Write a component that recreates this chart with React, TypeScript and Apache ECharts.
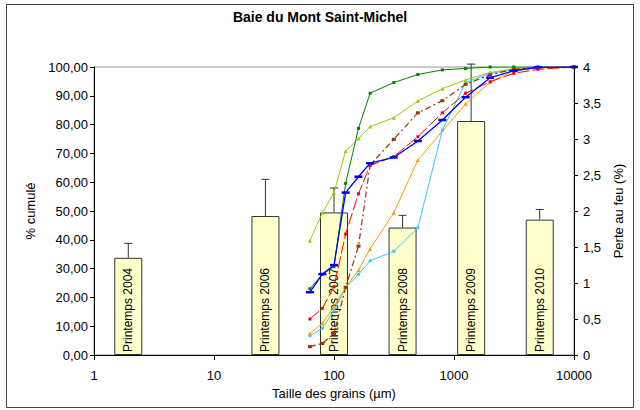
import React, { useEffect, useRef } from "react";
import * as echarts from "echarts";

const FONT = "'Liberation Sans', Arial, sans-serif";

// Bars: loss on ignition (%) per campaign (right axis)
const barCategories = ["Printemps 2004", "", "Printemps 2006", "Printemps 2007", "Printemps 2008", "Printemps 2009", "Printemps 2010"];
const barValues: (number | null)[] = [1.35, null, 1.93, 1.98, 1.77, 3.25, 1.88];
const barErrorHigh: (number | null)[] = [1.55, null, 2.44, 2.32, 1.94, 4.04, 2.02];

// Cumulative grain size curves (left axis, % cumulé) vs grain size (µm)
const sizesMain = [63, 80, 100, 125, 160, 200, 315, 500, 800, 1250, 2000, 3150, 5000, 10000];
const sizesOrange = [63, 80, 100, 125, 160, 200, 315, 500, 1250, 2000, 3150, 5000, 10000];

const greenValues = [23, 28, 30.7, 59.6, 78.7, 90.9, 94.6, 97.4, 99, 99.5, 100, 100, 100, 100];
const yellowGreenValues = [39.7, 49.4, 56.4, 70.8, 75.2, 79.3, 82.4, 88.2, 92.5, 95.5, 98.1, 99.4, 99.9, 100];
const brownValues = [2.9, 4.0, 7.5, 23.5, 37.8, 66, 74.9, 84.1, 88.3, 94, 97.3, 99.2, 99.9, 100];
const redValues = [12.5, 16.2, 23.7, 42, 56, 65.8, 68.9, 75.8, 84.1, 90.9, 94.9, 97.8, 99.2, 100];
const blueValues = [21.8, 28.1, 31.2, 56.4, 61.9, 66.6, 68.6, 74.3, 81.6, 89.5, 96.3, 98.7, 99.9, 100];
const orangeValues = [7.5, 11, 16.8, 23.5, 29.5, 36.9, 49.4, 67.7, 87.2, 94.7, 98.7, 99.9, 100];
const cyanValues = [6.7, 9.3, 15.5, 23.3, 28, 32.7, 36, 44.2, 78.1, 94.6, 97.8, 99, 99.9, 100];

const leftTicks = { min: 0, max: 100, interval: 10 };
const rightTicks = { min: 0, max: 4, interval: 0.5 };

const pairs = (xs: number[], ys: number[]) => xs.map((x, i) => [x, ys[i]]);

function lineSeries(name: string, xs: number[], ys: number[], color: string, opts: any = {}) {
  return {
    name,
    type: "line",
    xAxisIndex: 0,
    yAxisIndex: 0,
    data: pairs(xs, ys),
    symbol: opts.symbol || "rect",
    symbolSize: opts.symbolSize || 3,
    showSymbol: true,
    itemStyle: { color },
    lineStyle: { color, width: opts.width || 1, type: opts.type || "solid" },
    z: opts.z || 3,
  };
}

export default function App() {
  const ref = useRef<HTMLDivElement>(null);

  useEffect(() => {
    document.body.style.margin = "0";
    if (!ref.current) return;
    const chart = echarts.init(ref.current, undefined, { renderer: "svg" });

    const errorData = barValues
      .map((v, i) => (v == null ? null : [i, v, barErrorHigh[i]]))
      .filter((d) => d != null);

    const option: any = {
      animation: false,
      backgroundColor: "#fff",
      textStyle: { fontFamily: FONT },
      title: {
        text: "Baie du Mont Saint-Michel",
        left: "center",
        top: 10,
        padding: 0,
        textStyle: { fontFamily: FONT, fontSize: 14, fontWeight: "bold", color: "#000" },
      },
      graphic: [
        {
          type: "rect",
          shape: { x: 6.5, y: 4.5, width: 627, height: 403 },
          style: { fill: "none", stroke: "#444", lineWidth: 1 },
          silent: true,
        },
      ],
      grid: {
        left: 94,
        right: 66,
        top: 67,
        bottom: 55,
        show: true,
        borderColor: "#999",
        borderWidth: 1,
        backgroundColor: "transparent",
      },
      xAxis: [
        {
          type: "log",
          logBase: 10,
          min: 1,
          max: 10000,
          name: "Taille des grains (µm)",
          nameLocation: "middle",
          nameGap: 31,
          nameTextStyle: { fontFamily: FONT, fontSize: 13, color: "#000" },
          axisLine: { show: true, lineStyle: { color: "#000", width: 1 } },
          axisTick: { show: true, length: 5, lineStyle: { color: "#000" } },
          minorTick: { show: false },
          splitLine: { show: false },
          axisLabel: {
            fontFamily: FONT,
            fontSize: 13,
            color: "#000",
            margin: 14,
            formatter: (v: number) => String(Math.round(v)),
          },
        },
        {
          type: "category",
          data: barCategories,
          show: false,
          boundaryGap: true,
          gridIndex: 0,
        },
      ],
      yAxis: [
        {
          type: "value",
          ...leftTicks,
          name: "% cumulé",
          nameLocation: "middle",
          nameGap: 48,
          nameRotate: 90,
          nameTextStyle: { fontFamily: FONT, fontSize: 13, color: "#000" },
          axisLine: { show: true, lineStyle: { color: "#000", width: 1 } },
          axisTick: { show: true, length: 4, lineStyle: { color: "#000" } },
          splitLine: { show: false },
          axisLabel: {
            fontFamily: FONT,
            fontSize: 13,
            color: "#000",
            margin: 6,
            formatter: (v: number) => v.toFixed(2).replace(".", ","),
          },
        },
        {
          type: "value",
          position: "right",
          ...rightTicks,
          name: "Perte au feu (%)",
          nameLocation: "middle",
          nameGap: 37,
          nameRotate: 90,
          nameTextStyle: { fontFamily: FONT, fontSize: 13, color: "#000" },
          axisLine: { show: true, lineStyle: { color: "#000", width: 1 } },
          axisTick: { show: true, length: 4, lineStyle: { color: "#000" } },
          splitLine: { show: false },
          axisLabel: {
            fontFamily: FONT,
            fontSize: 13,
            color: "#000",
            margin: 9,
            formatter: (v: number) => String(v).replace(".", ","),
          },
        },
      ],
      series: [
        {
          name: "Perte au feu",
          type: "bar",
          xAxisIndex: 1,
          yAxisIndex: 1,
          data: barValues.map((v) => (v == null ? "-" : v)),
          barWidth: 28,
          itemStyle: { color: "#FFFFCC", borderColor: "#333", borderWidth: 1 },
          label: {
            show: true,
            position: "insideBottom",
            rotate: 90,
            align: "left",
            verticalAlign: "middle",
            distance: 3,
            fontFamily: FONT,
            fontSize: 12,
            color: "#000",
            formatter: (p: any) => barCategories[p.dataIndex],
          },
          z: 1,
        },
        {
          name: "Erreur",
          type: "custom",
          xAxisIndex: 1,
          yAxisIndex: 1,
          clip: false,
          data: errorData,
          renderItem: (params: any, api: any) => {
            const idx = api.value(0);
            const p1 = api.coord([idx, api.value(1)]);
            const p2 = api.coord([idx, api.value(2)]);
            const half = 4;
            return {
              type: "group",
              children: [
                {
                  type: "line",
                  shape: { x1: p1[0], y1: p1[1], x2: p2[0], y2: p2[1] },
                  style: { stroke: "#333", lineWidth: 1 },
                },
                {
                  type: "line",
                  shape: { x1: p2[0] - half, y1: p2[1], x2: p2[0] + half, y2: p2[1] },
                  style: { stroke: "#333", lineWidth: 1 },
                },
              ],
            };
          },
          z: 2,
        },
        lineSeries("Cyan", sizesMain, cyanValues, "#33CCFF", { symbol: "rect", symbolSize: 3 }),
        lineSeries("Orange", sizesOrange, orangeValues, "#FF9900", { symbol: "triangle", symbolSize: 4 }),
        lineSeries("Vert clair", sizesMain, yellowGreenValues, "#99CC00", { symbol: "triangle", symbolSize: 4 }),
        lineSeries("Vert", sizesMain, greenValues, "#008000", { symbol: "rect", symbolSize: 3 }),
        lineSeries("Brun", sizesMain, brownValues, "#993300", { symbol: "rect", symbolSize: [4, 3], width: 1.2, type: [6, 3, 2, 3] }),
        lineSeries("Rouge", sizesMain, redValues, "#FF0000", { symbol: "rect", symbolSize: 3, type: [12, 3] }),
        lineSeries("Bleu", sizesMain, blueValues, "#0000FF", { symbol: "rect", symbolSize: [8, 2.5], width: 1.3, z: 4 }),
      ],
    };

    chart.setOption(option);
    return () => chart.dispose();
  }, []);

  return <div ref={ref} style={{ width: 640, height: 410 }} />;
}
